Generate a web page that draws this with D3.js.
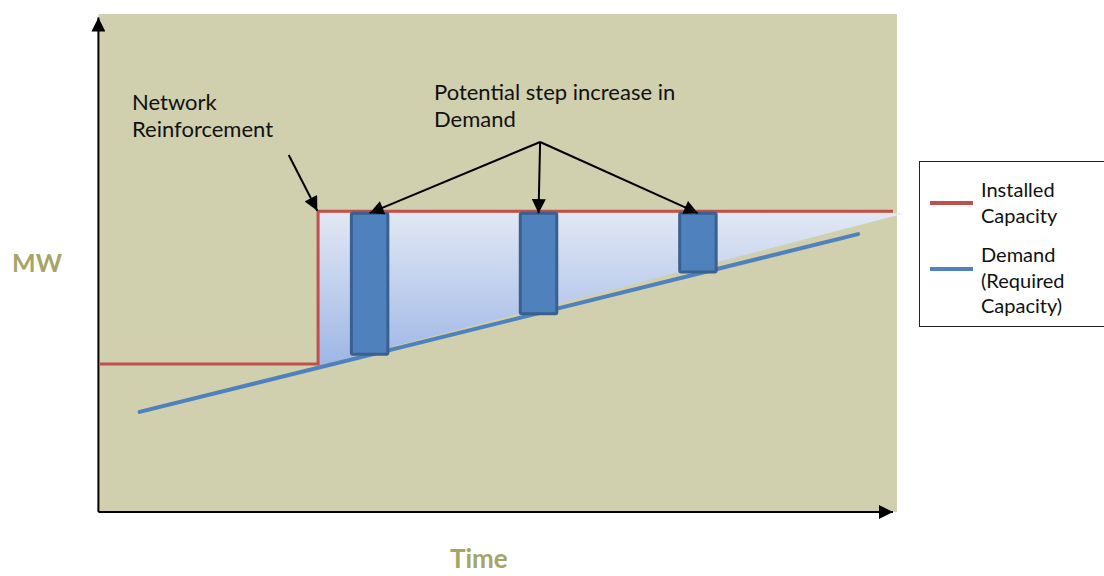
<!DOCTYPE html>
<html>
<head>
<meta charset="utf-8">
<script src="https://cdn.jsdelivr.net/npm/d3@7"></script>
<style>
  body { margin: 0; background: #fff; }
  text { font-family: Lato, "Noto Sans", sans-serif; }
</style>
</head>
<body>
<div id="chart"></div>
<script>
// schematic: installed capacity vs demand over time (arbitrary units)

// installed capacity as a step: low until the reinforcement, then high
const capacityT = [0, 2.75, 10];
const capacityMW = [2.97, 6.04, 6.04];

// demand (required capacity) grows linearly
const demandT = [0.5, 9.56];
const demandMW = [2.01, 5.58];

// headroom wedge between the reinforcement and the demand line
const headroomT = [2.75, 10.15];
const headroomLow = [2.93, 6.0];
const headroomHigh = 6.0;

// potential step increases in demand
const stepT = [3.40, 5.53, 7.54];
const stepTop = 6.0;
const stepBottom = [3.17, 3.98, 4.82];
const stepWidth = 0.46;

// annotation anchors
const reinforceFrom = [2.38, 7.17];
const reinforceTo = [2.74, 6.05];
const stepLabelFrom = [5.55, 7.43];

const legendItems = [
  { key: "capacity", lines: ["Installed", "Capacity"] },
  { key: "demand", lines: ["Demand", "(Required", "Capacity)"] }
];

const colors = { capacity: "#c0504d", demand: "#4f81bd", bar: "#4f81bd", barEdge: "#3a6090", bg: "#d0cfae", label: "#a5a567" };

const width = 1104, height = 576;

const x = d3.scaleLinear().domain([0, 10]).range([100, 893]);
const y = d3.scaleLinear().domain([0, 10]).range([512, 14]);

const svg = d3.select("#chart").append("svg")
    .attr("width", width)
    .attr("height", height);

const defs = svg.append("defs");

defs.append("marker")
    .attr("id", "arrow")
    .attr("viewBox", "0 0 10 10")
    .attr("refX", 10)
    .attr("refY", 5)
    .attr("markerUnits", "userSpaceOnUse")
    .attr("markerWidth", 15)
    .attr("markerHeight", 14)
    .attr("orient", "auto")
    .append("path")
    .attr("d", "M0,0L10,5L0,10Z")
    .attr("fill", "#000");

const grad = defs.append("linearGradient")
    .attr("id", "headroom")
    .attr("x1", 0).attr("y1", 0).attr("x2", 0).attr("y2", 1);
grad.append("stop").attr("offset", "0%").attr("stop-color", "#e2e8f4");
grad.append("stop").attr("offset", "100%").attr("stop-color", "#9db6e6");

// plot background
svg.append("rect")
    .attr("x", x(-0.02))
    .attr("y", y(10))
    .attr("width", x(10.05) - x(-0.02))
    .attr("height", y(0) - y(10))
    .attr("fill", colors.bg);

// headroom wedge
const wedge = [
  [headroomT[0], headroomHigh],
  [headroomT[1], headroomHigh],
  [headroomT[1], headroomLow[1]],
  [headroomT[0], headroomLow[0]]
];
svg.append("path")
    .attr("d", d3.line().x(d => x(d[0])).y(d => y(d[1]))(wedge) + "Z")
    .attr("fill", "url(#headroom)");

// demand line
svg.append("path")
    .attr("d", d3.line().x(d => x(d[0])).y(d => y(d[1]))(d3.zip(demandT, demandMW)))
    .attr("fill", "none")
    .attr("stroke", colors.demand)
    .attr("stroke-width", 4)
    .attr("stroke-linecap", "round");

// installed capacity step line
svg.append("path")
    .attr("d", d3.line().curve(d3.curveStepAfter).x(d => x(d[0])).y(d => y(d[1]))(d3.zip(capacityT, capacityMW)))
    .attr("fill", "none")
    .attr("stroke", colors.capacity)
    .attr("stroke-width", 3);

// step increase bars
svg.append("g")
    .selectAll("rect")
    .data(stepT)
    .join("rect")
    .attr("x", d => x(d - stepWidth / 2))
    .attr("y", y(stepTop))
    .attr("width", x(stepWidth) - x(0))
    .attr("height", (d, i) => y(stepBottom[i]) - y(stepTop))
    .attr("rx", 1.5)
    .attr("fill", colors.bar)
    .attr("stroke", colors.barEdge)
    .attr("stroke-width", 3);

// axes with arrow heads
svg.append("line")
    .attr("x1", x(-0.02)).attr("y1", y(0))
    .attr("x2", x(-0.02)).attr("y2", y(9.93))
    .attr("stroke", "#000").attr("stroke-width", 2)
    .attr("marker-end", "url(#arrow)");

svg.append("line")
    .attr("x1", x(-0.02)).attr("y1", y(0))
    .attr("x2", x(10)).attr("y2", y(0))
    .attr("stroke", "#000").attr("stroke-width", 2)
    .attr("marker-end", "url(#arrow)");

// annotation arrows
svg.append("line")
    .attr("x1", x(reinforceFrom[0])).attr("y1", y(reinforceFrom[1]))
    .attr("x2", x(reinforceTo[0])).attr("y2", y(reinforceTo[1]))
    .attr("stroke", "#000").attr("stroke-width", 2)
    .attr("marker-end", "url(#arrow)");

svg.append("g")
    .selectAll("line")
    .data(stepT)
    .join("line")
    .attr("x1", x(stepLabelFrom[0])).attr("y1", y(stepLabelFrom[1]))
    .attr("x2", d => x(d)).attr("y2", y(stepTop))
    .attr("stroke", "#000").attr("stroke-width", 2)
    .attr("marker-end", "url(#arrow)");

// annotation text
const note = (lines, tx, ty) => {
  const t = svg.append("text")
      .attr("x", tx).attr("y", ty)
      .attr("font-size", 22)
      .attr("fill", "#111");
  t.selectAll("tspan")
      .data(lines)
      .join("tspan")
      .attr("x", tx)
      .attr("dy", (d, i) => i === 0 ? 0 : 27)
      .text(d => d);
};
note(["Network", "Reinforcement"], 132, 110);
note(["Potential step increase in", "Demand"], 434, 100);

// axis titles
svg.append("text")
    .attr("x", 12).attr("y", 272)
    .attr("font-size", 25).attr("font-weight", "bold")
    .attr("fill", colors.label)
    .text("MW");

svg.append("text")
    .attr("x", 450).attr("y", 568)
    .attr("font-size", 26).attr("font-weight", "bold")
    .attr("fill", colors.label)
    .text("Time");

// legend
const legend = svg.append("g");
legend.append("rect")
    .attr("x", 919.5).attr("y", 161.5)
    .attr("width", 200).attr("height", 165)
    .attr("fill", "#fff")
    .attr("stroke", "#222").attr("stroke-width", 1);

const legendY = [203, 269];
const legendTextY = [197, 262];
legendItems.forEach((item, i) => {
  legend.append("line")
      .attr("x1", 930).attr("x2", 973)
      .attr("y1", legendY[i]).attr("y2", legendY[i])
      .attr("stroke", colors[item.key])
      .attr("stroke-width", 4);
  legend.append("text")
      .attr("y", legendTextY[i])
      .attr("font-size", 20)
      .attr("fill", "#111")
      .selectAll("tspan")
      .data(item.lines)
      .join("tspan")
      .attr("x", 981)
      .attr("dy", (d, j) => j === 0 ? 0 : 25.5)
      .text(d => d);
});
</script>
</body>
</html>
